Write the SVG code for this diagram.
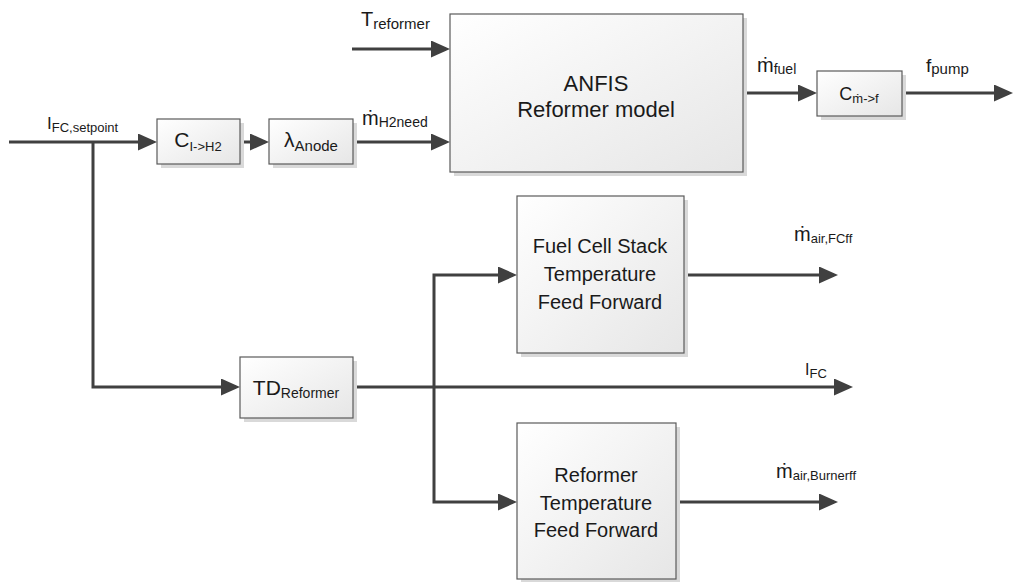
<svg xmlns="http://www.w3.org/2000/svg" width="1013" height="582" viewBox="0 0 1013 582">
<defs>
<linearGradient id="g" x1="0" y1="0" x2="1" y2="1">
<stop offset="0" stop-color="#ffffff"/>
<stop offset="1" stop-color="#e6e6e6"/>
</linearGradient>
<marker id="ah" markerUnits="userSpaceOnUse" markerWidth="20" markerHeight="18" refX="15" refY="8.5" orient="auto">
<path d="M0,0 L19,8.5 L0,17 z" fill="#404040"/>
</marker>
<style>
.box{fill:url(#g);stroke:#5a5a5a;stroke-width:1.2}
.sh{fill:#d9d9d9}
.ln{fill:none;stroke:#404040;stroke-width:3}
.ar{marker-end:url(#ah)}
text{font-family:"Liberation Sans",Arial,sans-serif;fill:#1a1a1a}
.c{text-anchor:middle}
</style>
</defs>
<rect width="1013" height="582" fill="#ffffff"/>

<g id="connectors">
<path class="ln ar" d="M9,142 H153"/>
<path class="ln ar" d="M240,142 H265"/>
<path class="ln ar" d="M353,142 H446"/>
<path class="ln ar" d="M352,49 H446"/>
<path class="ln ar" d="M743,93 H813"/>
<path class="ln ar" d="M902,93 H1009"/>
<path class="ln ar" d="M93,142 V387 H236"/>
<path class="ln ar" d="M353,387 H849"/>
<path class="ln ar" d="M434,387 V275 H513"/>
<path class="ln ar" d="M434,387 V502 H513"/>
<path class="ln ar" d="M684,275 H834"/>
<path class="ln ar" d="M676,502 H834"/>
</g>

<g id="labels">
<text x="47" y="129"><tspan font-size="17">I</tspan><tspan font-size="13" dy="3">FC,setpoint</tspan></text>
<text x="361" y="26"><tspan font-size="20">T</tspan><tspan font-size="15" dy="3">reformer</tspan></text>
<text x="362" y="125"><tspan font-size="20">ṁ</tspan><tspan font-size="14" dy="2">H2need</tspan></text>
<text x="757" y="72"><tspan font-size="20">ṁ</tspan><tspan font-size="14" dy="2">fuel</tspan></text>
<text x="926" y="72"><tspan font-size="19">f</tspan><tspan font-size="15" dy="2">pump</tspan></text>
<text x="794" y="241"><tspan font-size="20">ṁ</tspan><tspan font-size="13" dy="2">air,FCff</tspan></text>
<text x="805" y="375"><tspan font-size="16">I</tspan><tspan font-size="13" dy="3">FC</tspan></text>
<text x="776" y="478"><tspan font-size="20">ṁ</tspan><tspan font-size="13" dy="2">air,Burnerff</tspan></text>
</g>

<g id="node-c-ih2">
<rect class="sh" x="161" y="123" width="83" height="45"/>
<rect class="box" x="157" y="119" width="83" height="45"/>
<text class="c" x="198" y="147"><tspan font-size="21">C</tspan><tspan font-size="13" dy="4">I-&gt;H2</tspan></text>
</g>

<g id="node-lambda">
<rect class="sh" x="273" y="123" width="84" height="45"/>
<rect class="box" x="269" y="119" width="84" height="45"/>
<text class="c" x="311" y="147"><tspan font-size="21">λ</tspan><tspan font-size="15" dy="4">Anode</tspan></text>
</g>

<g id="node-anfis">
<rect class="sh" x="454" y="18" width="293" height="158"/>
<rect class="box" x="450" y="14" width="293" height="158"/>
<text class="c" x="596" y="91" font-size="22">ANFIS</text>
<text class="c" x="596" y="117" font-size="22">Reformer model</text>
</g>

<g id="node-c-mf">
<rect class="sh" x="821" y="75" width="85" height="45"/>
<rect class="box" x="817" y="71" width="85" height="45"/>
<text class="c" x="859" y="100"><tspan font-size="18">C</tspan><tspan font-size="13" dy="3">ṁ-&gt;f</tspan></text>
</g>

<g id="node-td">
<rect class="sh" x="244" y="361" width="113" height="61"/>
<rect class="box" x="240" y="357" width="113" height="61"/>
<text class="c" x="296" y="395"><tspan font-size="21">TD</tspan><tspan font-size="14" dy="3">Reformer</tspan></text>
</g>

<g id="node-fcstack">
<rect class="sh" x="521" y="200" width="167" height="157"/>
<rect class="box" x="517" y="196" width="167" height="157"/>
<text class="c" x="600" y="253" font-size="20">Fuel Cell Stack</text>
<text class="c" x="600" y="281" font-size="20">Temperature</text>
<text class="c" x="600" y="309" font-size="20">Feed Forward</text>
</g>

<g id="node-reformerff">
<rect class="sh" x="521" y="427" width="159" height="156"/>
<rect class="box" x="517" y="423" width="159" height="156"/>
<text class="c" x="596" y="482" font-size="20">Reformer</text>
<text class="c" x="596" y="510" font-size="20">Temperature</text>
<text class="c" x="596" y="537" font-size="20">Feed Forward</text>
</g>
</svg>
